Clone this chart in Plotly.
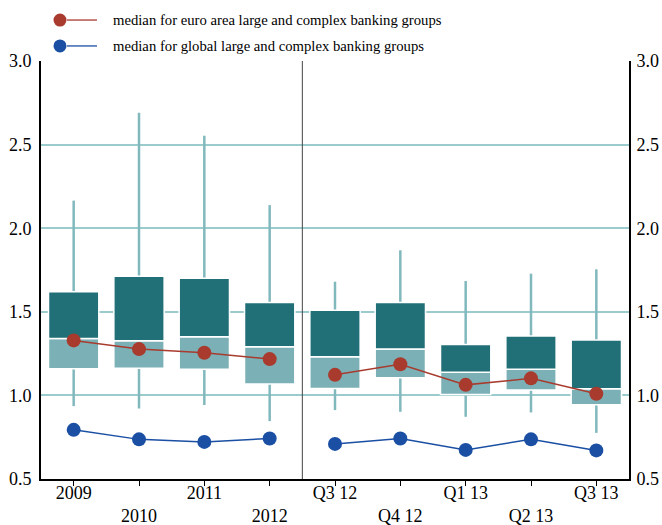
import plotly.graph_objects as go

categories = ["2009", "2010", "2011", "2012", "Q3 12", "Q4 12", "Q1 13", "Q2 13", "Q3 13"]
n_annual = 4

whisker_low = [0.936, 0.922, 0.942, 0.846, 0.912, 0.902, 0.872, 0.898, 0.776]
whisker_high = [2.165, 2.690, 2.553, 2.138, 1.680, 1.868, 1.684, 1.728, 1.754]
box_low = [1.160, 1.163, 1.156, 1.068, 1.042, 1.105, 1.006, 1.032, 0.944]
box_mid = [1.341, 1.327, 1.351, 1.291, 1.231, 1.277, 1.138, 1.156, 1.040]
box_high = [1.620, 1.713, 1.700, 1.555, 1.509, 1.555, 1.305, 1.355, 1.331]
median_euro = [1.329, 1.277, 1.255, 1.217, 1.123, 1.186, 1.063, 1.102, 1.010]
median_global = [0.794, 0.737, 0.722, 0.742, 0.710, 0.742, 0.674, 0.737, 0.671]

y_ticks = [0.5, 1.0, 1.5, 2.0, 2.5, 3.0]

RED = "#a83b2e"
BLUE = "#1a4fa3"
DARK = "#216f77"
LIGHT = "#7bb0b6"
WHISK = "#80b8bc"
GRID = "#9ccbcd"
FONT = "Liberation Serif"

x = list(range(len(categories)))
ticktext = [c if i % 2 == 0 else "<br>" + c for i, c in enumerate(categories)]

fig = go.Figure()

fig.add_trace(go.Bar(
    x=x, base=whisker_low, y=[h - l for h, l in zip(whisker_high, whisker_low)],
    width=0.038, marker=dict(color=WHISK, line=dict(width=0)),
    showlegend=False, hoverinfo="skip"))
fig.add_trace(go.Bar(
    x=x, base=box_low, y=[m - l for m, l in zip(box_mid, box_low)],
    width=0.77, marker=dict(color=LIGHT, line=dict(color="white", width=1.5)),
    showlegend=False, hoverinfo="skip"))
fig.add_trace(go.Bar(
    x=x, base=box_mid, y=[h - m for h, m in zip(box_high, box_mid)],
    width=0.77, marker=dict(color=DARK, line=dict(color="white", width=1.5)),
    showlegend=False, hoverinfo="skip"))

for vals, col in [(median_euro, RED), (median_global, BLUE)]:
    for sl in [slice(0, n_annual), slice(n_annual, None)]:
        fig.add_trace(go.Scatter(
            x=x[sl], y=vals[sl], mode="lines+markers",
            line=dict(color=col, width=1.5),
            marker=dict(color=col, size=14),
            showlegend=False, hoverinfo="skip"))

fig.add_trace(go.Scatter(x=[0], y=[1], yaxis="y2", mode="markers",
                         marker=dict(opacity=0), showlegend=False, hoverinfo="skip"))

# separator between annual and quarterly
fig.add_shape(type="line", xref="x", yref="paper", x0=n_annual - 0.5, x1=n_annual - 0.5,
              y0=0, y1=1, line=dict(color="#444444", width=1))

# manual legend
legend_items = [("median for euro area large and complex banking groups", RED, 1.098),
                ("median for global large and complex banking groups", BLUE, 1.036)]
for label, col, yy in legend_items:
    fig.add_shape(type="circle", xref="paper", yref="paper", xsizemode="pixel", ysizemode="pixel",
                  xanchor=0.0323, yanchor=yy, x0=-6.5, x1=6.5, y0=-6.5, y1=6.5,
                  fillcolor=col, line=dict(width=0))
    fig.add_shape(type="line", xref="paper", yref="paper", x0=0.0442, x1=0.0952, y0=yy, y1=yy,
                  line=dict(color=col, width=1.3))
    fig.add_annotation(text=label, xref="paper", yref="paper", x=0.1195, y=yy,
                       xanchor="left", yanchor="middle", showarrow=False,
                       font=dict(family=FONT, size=14.7, color="black"))

fig.update_layout(
    width=662, height=525,
    margin=dict(l=41, r=33, t=61, b=46),
    paper_bgcolor="white", plot_bgcolor="white",
    barmode="overlay", showlegend=False,
    font=dict(family=FONT, size=18, color="black"),
    xaxis=dict(range=[-0.5, len(categories) - 0.5], tickmode="array", tickvals=x,
               ticktext=ticktext, showgrid=False, zeroline=False, automargin=False,
               showline=True, linecolor="black", linewidth=2,
               ticks="outside", ticklen=5, tickcolor="black", tickwidth=1,
               ticklabelstandoff=-9),
    yaxis=dict(range=[0.5, 3.0], tickmode="array", tickvals=y_ticks,
               ticktext=[f"{v:.1f}" for v in y_ticks], automargin=False,
               showgrid=True, gridcolor=GRID, gridwidth=1.5, zeroline=False,
               showline=True, linecolor="black", linewidth=2, ticks="", ticklabelstandoff=4),
    yaxis2=dict(range=[0.5, 3.0], overlaying="y", side="right", tickmode="array",
                tickvals=y_ticks, ticktext=[f"{v:.1f}" for v in y_ticks], automargin=False,
                showgrid=False, zeroline=False, showline=True, linecolor="black",
                linewidth=2, ticks="", ticklabelstandoff=2),
)

fig.write_html("out.html", config={"displayModeBar": False},
               post_script="document.body.style.margin='0';document.body.style.overflow='hidden';")
